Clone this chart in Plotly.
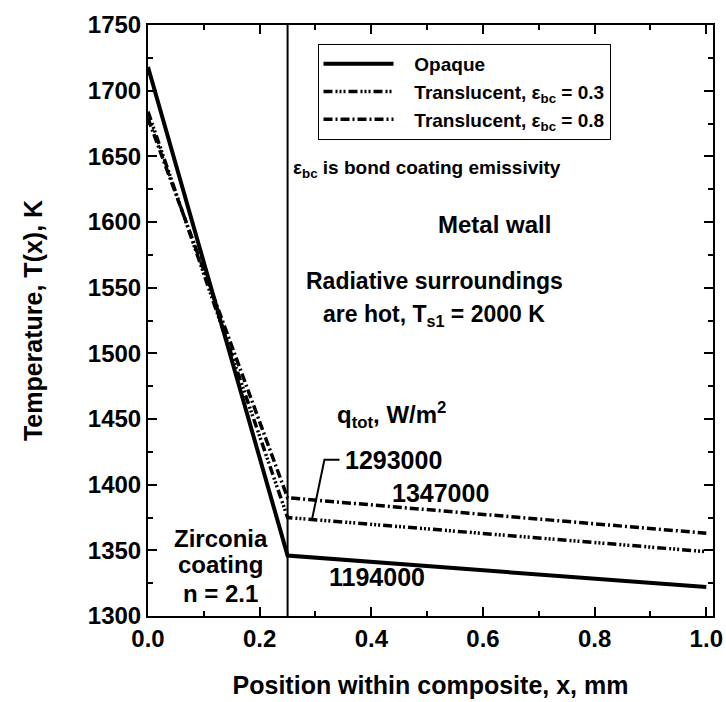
import plotly.graph_objects as go

# ---- data ----
x_pos = [0.0, 0.25, 1.0]
T_opaque = [1718, 1346, 1322]
T_trans_03 = [1684, 1375, 1349]
T_trans_08 = [1679, 1390, 1363]
series_names = ["Opaque", "Translucent, ε<sub>bc</sub> = 0.3", "Translucent, ε<sub>bc</sub> = 0.8"]
q_labels = ["1194000", "1293000", "1347000"]
x_ticks = [0.0, 0.2, 0.4, 0.6, 0.8, 1.0]
y_ticks = [1300, 1350, 1400, 1450, 1500, 1550, 1600, 1650, 1700, 1750]
interface_x = 0.25

FONT = "Liberation Sans, Arial, sans-serif"
PAD = "\u00a0\u00a0\u00a0"

fig = go.Figure()
fig.add_trace(go.Scatter(x=x_pos, y=T_opaque, mode="lines", name=PAD + series_names[0],
                         line=dict(color="black", width=4)))
fig.add_trace(go.Scatter(x=x_pos, y=T_trans_03, mode="lines", name=PAD + series_names[1],
                         line=dict(color="black", width=3.5,
                                   dash="9px,3px,2px,2px,2px,2px,2px,3px")))
fig.add_trace(go.Scatter(x=x_pos, y=T_trans_08, mode="lines", name=PAD + series_names[2],
                         line=dict(color="black", width=3.5, dash="9px,3px,2px,3px")))

# interface line
fig.add_shape(type="line", x0=interface_x, x1=interface_x, y0=0, y1=1,
              xref="x", yref="paper", line=dict(color="black", width=2))
# leader line for 1293000
fig.add_shape(type="path", path="M 0.343 1419 L 0.316 1419 L 0.294 1374",
              xref="x", yref="y", line=dict(color="black", width=2))

def ann(text, x, y, size=18, xanchor="center", bold=True):
    fig.add_annotation(text=text, x=x, y=y, xref="x", yref="y", showarrow=False,
                       xanchor=xanchor, yanchor="middle",
                       font=dict(family=FONT, size=size, color="black",
                                 weight="bold" if bold else "normal"))

ann("ε<sub>bc</sub> is bond coating emissivity", 0.256, 1640, size=19, xanchor="left")
ann("Metal wall", 0.62, 1598, size=24)
ann("Radiative surroundings", 0.513, 1555, size=23)
ann("are hot, T<sub>s1</sub> = 2000 K", 0.513, 1529, size=23)
ann("q<sub>tot</sub>, W/m<sup>2</sup>", 0.437, 1453, size=24)
ann(q_labels[1], 0.44, 1419, size=25)
ann(q_labels[2], 0.524, 1394, size=25)
ann(q_labels[0], 0.41, 1330, size=25)
ann("Zirconia", 0.13, 1359, size=24)
ann("coating", 0.13, 1339, size=24)
ann("n = 2.1", 0.13, 1317, size=24)

fig.update_layout(
    width=726, height=702,
    margin=dict(l=148, r=11, t=16, b=86),
    plot_bgcolor="white", paper_bgcolor="white",
    font=dict(family=FONT, color="black"),
    legend=dict(x=0.3, y=0.968, xanchor="left", yanchor="top",
                bordercolor="black", borderwidth=1, bgcolor="white",
                font=dict(family=FONT, size=19, color="black", weight="bold"),
                itemwidth=70),
    showlegend=True,
)
fig.update_xaxes(range=[0, 1.012], tickvals=x_ticks, tickformat=".1f",
                 ticks="inside", ticklen=9, tickwidth=2, tickcolor="black",
                 minor=dict(dtick=0.1, ticks="inside", ticklen=5, tickwidth=2, tickcolor="black"),
                 showline=True, linecolor="black", linewidth=2, mirror="allticks",
                 showgrid=False, zeroline=False, automargin=False,
                 tickfont=dict(family=FONT, size=24, weight="bold"),
                 title=dict(text="Position within composite, x, mm", standoff=26,
                            font=dict(family=FONT, size=25, weight="bold")))
fig.update_yaxes(range=[1300, 1750], tickvals=y_ticks,
                 ticks="inside", ticklen=9, tickwidth=2, tickcolor="black",
                 minor=dict(dtick=25, ticks="inside", ticklen=5, tickwidth=2, tickcolor="black"),
                 showline=True, linecolor="black", linewidth=2, mirror="allticks",
                 showgrid=False, zeroline=False,
                 tickfont=dict(family=FONT, size=24, weight="bold"),
                 title=dict(text="Temperature, T(x), K", standoff=38,
                            font=dict(family=FONT, size=25, weight="bold")))

fig.write_html("out.html")
